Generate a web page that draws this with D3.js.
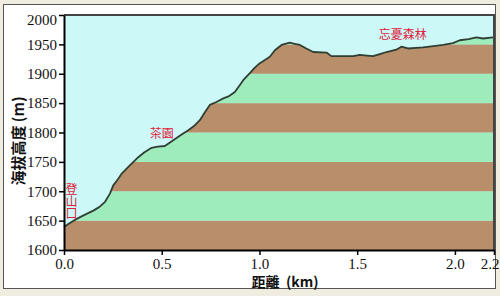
<!DOCTYPE html>
<html lang="zh-Hant">
<head>
<meta charset="utf-8">
<title>elevation profile</title>
<script src="https://cdn.jsdelivr.net/npm/d3@7"></script>
<style>
  body { margin: 0; background: #f0ece0; }
  .tick text { font-family: "Liberation Serif", serif; font-size: 15px; fill: #111; }
</style>
</head>
<body>
<script>
// profile: distance (km) and elevation (m)
var distKm = [0.00, 0.03, 0.065, 0.10, 0.15, 0.18, 0.21, 0.235, 0.252, 0.275, 0.295, 0.337, 0.38, 0.41, 0.448, 0.48,
  0.516, 0.559, 0.60, 0.636, 0.665, 0.695, 0.72, 0.746, 0.78, 0.815, 0.845, 0.874, 0.90, 0.917, 0.951, 0.975,
  1.002, 1.03, 1.053, 1.079, 1.113, 1.155, 1.18, 1.207, 1.24, 1.275, 1.343, 1.368, 1.42, 1.479, 1.513, 1.55,
  1.581, 1.62, 1.65, 1.70, 1.726, 1.76, 1.80, 1.837, 1.89, 1.94, 1.99, 2.025, 2.07, 2.11, 2.144, 2.195, 2.2];
var elevM = [1639, 1646, 1653, 1659, 1667, 1673, 1682, 1696, 1710, 1720, 1730, 1744, 1758, 1766, 1774, 1776,
  1777, 1787, 1796, 1804, 1811, 1821, 1834, 1847, 1852, 1858, 1862, 1869, 1881, 1889, 1901, 1910,
  1918, 1924, 1929, 1940, 1949, 1953, 1951, 1949, 1943, 1937, 1936, 1930, 1930, 1930, 1932, 1931,
  1930, 1934, 1937, 1941, 1946, 1943, 1944, 1945, 1947, 1949, 1952, 1957, 1959, 1962, 1960, 1962, 1962];

var xTicks = [0, 0.5, 1.0, 1.5, 2.0, 2.2];
var yTicks = [1600, 1650, 1700, 1750, 1800, 1850, 1900, 1950, 2000];

// place names along the trail (first one is written vertically)
var placeNames = ["登山口", "茶園", "忘憂森林"];
var placeKm = [0.038, 0.50, 1.733];
var placeElev = [1713, 1790, 1959];

var w = 500, h = 296;
var plotL = 64, plotR = 494, plotT = 15, plotB = 250;

var svg = d3.select("body").append("svg")
  .attr("width", w)
  .attr("height", h);

// white panel with a grey frame
svg.append("rect")
  .attr("x", 3.5).attr("y", 4.5)
  .attr("width", 492).attr("height", 284)
  .attr("fill", "#fff")
  .attr("stroke", "#555")
  .attr("stroke-width", 1);

var xScale = d3.scaleLinear().domain([0, 2.2]).range([plotL, plotR]);
var yScale = d3.scaleLinear().domain([1600, 2000]).range([plotB, plotT]);

var profile = distKm.map(function(d, i) { return [d, elevM[i]]; });

// sky
svg.append("rect")
  .attr("x", plotL).attr("y", plotT)
  .attr("width", plotR - plotL).attr("height", plotB - plotT)
  .attr("fill", "#cdf8f8");

var area = d3.area()
  .x(function(d) { return xScale(d[0]); })
  .y0(yScale(1600))
  .y1(function(d) { return yScale(d[1]); });

svg.append("clipPath").attr("id", "ground")
  .append("path")
  .attr("d", area(profile));

// 50 m bands, brown / green
var bands = yTicks.slice(0, -1);
svg.append("g")
  .attr("clip-path", "url(#ground)")
  .selectAll("rect")
  .data(bands)
  .enter()
  .append("rect")
  .attr("x", plotL)
  .attr("width", plotR - plotL)
  .attr("y", function(d) { return yScale(d + 50); })
  .attr("height", function(d) { return yScale(d) - yScale(d + 50); })
  .attr("fill", function(d, i) { return i % 2 == 0 ? "#b88f6a" : "#9eecbc"; });

var line = d3.line()
  .x(function(d) { return xScale(d[0]); })
  .y(function(d) { return yScale(d[1]); });

svg.append("path")
  .attr("d", line(profile))
  .attr("fill", "none")
  .attr("stroke", "#2f3f33")
  .attr("stroke-width", 1.8)
  .attr("stroke-linejoin", "round");

// top and right frame of the plot
svg.append("path")
  .attr("d", "M" + plotL + "," + plotT + "H" + plotR + "V" + plotB)
  .attr("fill", "none")
  .attr("stroke", "#444")
  .attr("stroke-width", 2);

// axes
var xAxis = d3.axisBottom(xScale)
  .tickValues(xTicks)
  .tickSize(5)
  .tickSizeOuter(0)
  .tickFormat(d3.format(".1f"));

var yAxis = d3.axisLeft(yScale)
  .tickValues(yTicks)
  .tickSize(5)
  .tickSizeOuter(0)
  .tickPadding(2)
  .tickFormat(d3.format("d"));

var gx = svg.append("g")
  .attr("transform", "translate(0," + plotB + ")")
  .call(xAxis);
gx.select(".domain").attr("stroke", "#000").attr("stroke-width", 2);
gx.selectAll(".tick line").attr("stroke", "#000").attr("stroke-width", 1.5);
gx.selectAll(".tick text").attr("dy", "0.7em");
gx.selectAll(".tick text").filter(function(d) { return d == 2.2; })
  .attr("text-anchor", "end").attr("dx", 5);

var gy = svg.append("g")
  .attr("transform", "translate(" + plotL + ",0)")
  .call(yAxis);
gy.select(".domain").attr("stroke", "#000").attr("stroke-width", 2);
gy.selectAll(".tick line").attr("stroke", "#000").attr("stroke-width", 1.5);
gy.selectAll(".tick text").filter(function(d) { return d == 2000; }).attr("dy", "0.62em");

// axis titles
svg.append("text")
  .attr("transform", "translate(24,141) rotate(-90)")
  .attr("text-anchor", "middle")
  .style("font-family", "'Noto Sans CJK TC', sans-serif")
  .style("font-weight", "bold")
  .style("font-size", "15px")
  .attr("fill", "#111")
  .text("海拔高度 (m)");

svg.append("text")
  .attr("x", 285).attr("y", 287)
  .attr("text-anchor", "middle")
  .style("font-family", "'Noto Sans CJK TC', sans-serif")
  .style("font-weight", "bold")
  .style("font-size", "14px")
  .attr("fill", "#111")
  .attr("xml:space", "preserve")
  .text("距離  (km)");

// place names in red
placeNames.forEach(function(name, i) {
  var t = svg.append("text")
    .attr("x", xScale(placeKm[i]))
    .attr("y", yScale(placeElev[i]))
    .style("font-family", "'Noto Sans CJK TC', sans-serif")
    .style("font-size", "12px")
    .attr("fill", "#e0203a")
    .text(name);
  if (i == 0) {
    t.attr("writing-mode", "vertical-rl").attr("text-anchor", "start");
  } else {
    t.attr("text-anchor", "middle");
  }
});
</script>
</body>
</html>
